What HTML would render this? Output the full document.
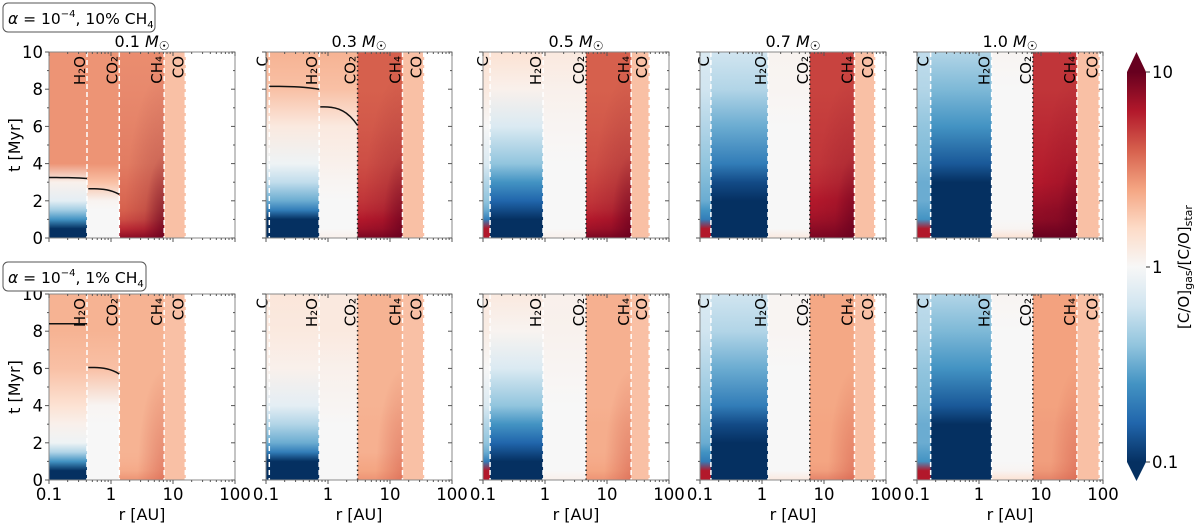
<!DOCTYPE html>
<html><head><meta charset="utf-8">
<style>
body{margin:0;background:#fff;width:1200px;height:525px;overflow:hidden;font-family:"Liberation Sans","DejaVu Sans",sans-serif;}
svg text{font-family:"DejaVu Sans","Liberation Sans",sans-serif;}
</style></head>
<body>
<svg id="chart" width="1200" height="525" viewBox="0 0 1200 525" xmlns="http://www.w3.org/2000/svg">
<defs id="defs"></defs>
<g id="panels"></g>
<g>
<rect x="3" y="3" width="152" height="29" rx="5" fill="#fff" stroke="#555" stroke-width="1"/>
<text x="8" y="24" font-size="15.5"><tspan font-style="italic">α</tspan> = 10<tspan font-size="10" dy="-7">−4</tspan><tspan dy="7">, 10% CH</tspan><tspan font-size="10" dy="4">4</tspan></text>
</g>
<g>
<rect x="3" y="262" width="143" height="29" rx="5" fill="#fff" stroke="#555" stroke-width="1"/>
<text x="8" y="283" font-size="15.5"><tspan font-style="italic">α</tspan> = 10<tspan font-size="10" dy="-7">−4</tspan><tspan dy="7">, 1% CH</tspan><tspan font-size="10" dy="4">4</tspan></text>
</g>
<text transform="translate(20,145) rotate(-90)" text-anchor="middle" font-size="16">t [Myr]</text>
<text transform="translate(20,387) rotate(-90)" text-anchor="middle" font-size="16">t [Myr]</text>
<g id="cbar"></g>
</svg>
<script>
const NS="http://www.w3.org/2000/svg";
const svg=document.getElementById('chart');
const defs=document.getElementById('defs');
const panelsG=document.getElementById('panels');

// ---- data ----
const times=[0,0.5,1,1.5,2,3,4,6,8,10];
const masses=["0.1","0.3","0.5","0.7","1.0"];
const xTicks=[0.1,1,10,100];
const xTickLabels=["0.1","1","10","100"];
const yTicks=[0,2,4,6,8,10];
const snowC=[null,0.113,0.13,0.15,0.166];
const snowH2O=[0.41,0.72,0.93,1.25,1.6];
const snowCO2=[1.36,3.0,4.6,5.9,7.4];
const snowCH4=[7.2,15.9,24.5,31,38];
const snowCO=[15.8,35,48,66,87];
const r1Inner=[
 [-1,-1,-0.6,-0.35,-0.1,0.05,0.45,0.45,0.45,0.45],
 [-1,-1,-1,-0.7,-0.5,-0.25,-0.05,0.1,0.3,0.35],
 [0.8,0.8,-0.7,-0.5,-0.4,-0.3,-0.15,0,0.1,0.15],
 [0.8,0.8,-0.7,-0.6,-0.5,-0.45,-0.4,-0.3,-0.2,-0.15],
 [0.8,0.8,-0.6,-0.55,-0.5,-0.5,-0.45,-0.4,-0.3,-0.25]];
const r1Water=[
 [-1,-1,-0.6,-0.35,-0.1,0.05,0.45,0.45,0.45,0.45],
 [-1,-1,-1,-0.7,-0.5,-0.25,-0.05,0.1,0.3,0.35],
 [-1,-1,-1,-0.9,-0.8,-0.6,-0.4,-0.15,0.05,0.15],
 [-1,-1,-1,-1,-1,-0.9,-0.7,-0.5,-0.3,-0.2],
 [-1,-1,-1,-1,-1,-1,-0.85,-0.6,-0.45,-0.3]];
const r1Mid=[
 [0,0,0,0,0.03,0.3,0.45,0.45,0.45,0.45],
 [0.05,0,0,0,0,0.02,0.05,0.1,0.3,0.35],
 [0.05,0,0,0,0,0,0,0.02,0.05,0.1],
 [0.1,0,0,0,0,0,0,0,0.02,0.03],
 [0.15,0.02,0,0,0,0,0,0,0,0.02]];
const r1Outer=[
 [0.9,0.75,0.65,0.6,0.58,0.55,0.52,0.5,0.48,0.47],
 [0.95,0.85,0.8,0.75,0.72,0.68,0.65,0.62,0.6,0.6],
 [0.95,0.85,0.8,0.75,0.72,0.68,0.65,0.62,0.6,0.6],
 [0.95,0.9,0.85,0.82,0.8,0.75,0.72,0.7,0.68,0.68],
 [1,0.95,0.9,0.88,0.85,0.8,0.78,0.75,0.72,0.72]];
const r2Inner=[
 [-1,-1,-0.6,-0.3,-0.05,0.05,0.15,0.3,0.35,0.35],
 [-1,-1,-1,-0.7,-0.5,-0.3,-0.1,0.05,0.1,0.12],
 [0.8,0.8,-0.7,-0.5,-0.4,-0.3,-0.15,0,0.08,0.1],
 [0.8,0.8,-0.7,-0.6,-0.5,-0.45,-0.4,-0.3,-0.2,-0.15],
 [0.8,0.8,-0.6,-0.55,-0.5,-0.5,-0.45,-0.4,-0.3,-0.25]];
const r2Water=[
 [-1,-1,-0.6,-0.3,-0.05,0.05,0.15,0.3,0.35,0.35],
 [-1,-1,-1,-0.7,-0.5,-0.3,-0.1,0.05,0.1,0.12],
 [-1,-1,-1,-0.9,-0.8,-0.6,-0.4,-0.15,0.03,0.1],
 [-1,-1,-1,-1,-1,-0.9,-0.7,-0.5,-0.3,-0.2],
 [-1,-1,-1,-1,-1,-1,-0.85,-0.6,-0.45,-0.3]];
const r2Mid=[
 [0,0,0,0,0,0,0.02,0.3,0.35,0.35],
 [0,0,0,0,0,0,0.02,0.05,0.1,0.1],
 [0.05,0,0,0,0,0,0,0.02,0.04,0.05],
 [0.1,0,0,0,0,0,0,0,0.02,0.02],
 [0.15,0.02,0,0,0,0,0,0,0,0.02]];
const r2Outer=[
 [0.45,0.38,0.36,0.35,0.35,0.35,0.35,0.35,0.35,0.35],
 [0.45,0.4,0.38,0.36,0.36,0.36,0.35,0.35,0.35,0.35],
 [0.45,0.4,0.38,0.37,0.37,0.37,0.36,0.36,0.36,0.36],
 [0.5,0.42,0.4,0.4,0.4,0.4,0.39,0.39,0.39,0.39],
 [0.5,0.44,0.42,0.42,0.42,0.42,0.41,0.41,0.41,0.41]];
const coZoneVal=0.3;
const contR=[[0,0,0.1,0.41],[0,0,0.43,1.36],[0,1,0.113,0.72],[0,1,0.75,3.0],[1,0,0.1,0.41],[1,0,0.43,1.36]];
const contT=[[3.25,3.2],[2.65,2.35],[8.15,8.0],[7.05,6.05],[8.4,8.4],[6.05,5.7]];

// ---- geometry ----
const PX0=49, PDX=217, PW=186, PH=186;
const PY0=[52,294];
const cmapStops=["#053061","#2166ac","#4393c3","#92c5de","#d1e5f0","#f7f7f7","#fddbc7","#f4a582","#d6604d","#b2182b","#67001f"];
function hex(h){return [1,3,5].map(i=>parseInt(h.substr(i,2),16));}
function cmap(v){
  let f=(Math.max(-1,Math.min(1,v))+1)/2*10; let i=Math.min(9,Math.floor(f)); let u=f-i;
  const a=hex(cmapStops[i]),b=hex(cmapStops[i+1]);
  return 'rgb('+a.map((x,k)=>Math.round(x+(b[k]-x)*u)).join(',')+')';
}
function xs(r,c){return PX0+PDX*c+(Math.log10(r)+1)/3*PW;}
function ys(t,row){return PY0[row]+PH-t/10*PH;}
function mk(tag,attrs,parent){const e=document.createElementNS(NS,tag);for(const k in attrs)e.setAttribute(k,attrs[k]);(parent||svg).appendChild(e);return e;}
let gid=0;
function gradFor(vals){
  const id='g'+(gid++);
  const g=mk('linearGradient',{id:id,x1:0,y1:1,x2:0,y2:0},defs);
  vals.forEach((v,i)=>mk('stop',{offset:times[i]/10,'stop-color':cmap(v)},g));
  return 'url(#'+id+')';
}
// overlay gradient: darkening toward outer-bottom corner of CO2-CH4 zone
const ov=mk('radialGradient',{id:'corner',cx:1,cy:1,r:0.9},defs);
mk('stop',{offset:0,'stop-color':'#67001f','stop-opacity':0.8},ov);
mk('stop',{offset:0.5,'stop-color':'#67001f','stop-opacity':0.15},ov);
mk('stop',{offset:1,'stop-color':'#67001f','stop-opacity':0},ov);
const ov2=mk('radialGradient',{id:'corner2',cx:1,cy:1,r:0.6},defs);
mk('stop',{offset:0,'stop-color':'#d6604d','stop-opacity':0.6},ov2);
mk('stop',{offset:1,'stop-color':'#d6604d','stop-opacity':0},ov2);

const rowsData=[[r1Inner,r1Water,r1Mid,r1Outer],[r2Inner,r2Water,r2Mid,r2Outer]];
for(let row=0;row<2;row++){
 for(let c=0;c<5;c++){
  const g=mk('g',{},panelsG);
  
  
  const x0=PX0+PDX*c, y0=PY0[row];
  const D=rowsData[row];
  const bounds=[0.1,snowC[c]||0.1,snowH2O[c],snowCO2[c],snowCH4[c],snowCO[c]];
  const vals=[D[0][c],D[1][c],D[2][c],D[3][c],null];
  for(let k=0;k<5;k++){
    const a=xs(bounds[k],c), b=xs(bounds[k+1],c);
    if(b-a<=0) continue;
    const fill = vals[k] ? gradFor(vals[k]) : cmap(coZoneVal);
    const rc=mk('rect',{x:a,y:y0,width:b-a+0.5,height:PH,fill:fill},g);
    
    
    if(k===3){
      const o=mk('rect',{x:a,y:y0,width:b-a,height:PH,fill:row===0?'url(#corner)':'url(#corner2)'},g);
      
      
    }
  }
  const lines=[["C",snowC[c]],["H₂O",snowH2O[c]],["CO₂",snowCO2[c]],["CH₄",snowCH4[c]],["CO",snowCO[c]]];
  lines.forEach(([lab,r],k)=>{
    if(!r) return;
    const x=xs(r,c);
    const dotted = (k===2 && c>0);
    const ln=mk('line',{x1:x,x2:x,y1:y0,y2:y0+PH,stroke:dotted?'#222':'#fff','stroke-width':1.5,'stroke-dasharray':dotted?'1.5,3':'5,3'},g);
    
    
    const t=mk('text',{transform:'translate('+(x-2)+','+(y0+4)+') rotate(-90)','text-anchor':'end','font-size':15,fill:'#000'},g);
    t.textContent=lab;
    
    
  });
  const fr=mk('rect',{x:x0,y:y0,width:PW,height:PH,fill:'none',stroke:'#888','stroke-width':1},g);
  
  
  for(let t=0;t<=10;t++){
    const y=ys(t,row), len=t%2===0?4:2;
    mk('line',{x1:x0-len,x2:x0,y1:y,y2:y,stroke:'#555','stroke-width':1},g);
    mk('line',{x1:x0+PW,x2:x0+PW-len,y1:y,y2:y,stroke:'#555','stroke-width':1},g);
  }
  for(let d=-1;d<2;d++){for(let m=1;m<=10;m++){
    const x=xs(m*Math.pow(10,d),c), len=m===1||m===10?4:2;
    mk('line',{x1:x,x2:x,y1:y0+PH,y2:y0+PH+len,stroke:'#555','stroke-width':1},g);
    mk('line',{x1:x,x2:x,y1:y0,y2:y0+len,stroke:'#555','stroke-width':1},g);
  }}
  if(c===0){
    yTicks.forEach(t=>{const tx=mk('text',{x:x0-6,y:ys(t,row)+6,'text-anchor':'end','font-size':16.5},g);tx.textContent=t;
      
      });
  }
  if(row===1){
    xTicks.forEach((r,i)=>{const tx=mk('text',{x:xs(r,c),y:y0+PH+20,'text-anchor':'middle','font-size':16.5},g);tx.textContent=xTickLabels[i];
      
      });
    const xl=mk('text',{x:x0+PW/2,y:y0+PH+40,'text-anchor':'middle','font-size':16},g);xl.textContent='r [AU]';
    
    
  } else {
    const tt=mk('text',{x:x0+PW/2,y:y0-5,'text-anchor':'middle','font-size':16},g);
    tt.innerHTML=masses[c]+' <tspan font-style="italic">M</tspan><tspan font-size="12" dy="3">☉</tspan>';
    
    
  }
 }
}
contR.forEach((cr,i)=>{
  const [row,c,ra,rb]=cr, [ta,tb]=contT[i];
  const pts=[];
  for(let s=0;s<=10;s++){const u=s/10; const r=Math.pow(10,Math.log10(ra)+(Math.log10(rb)-Math.log10(ra))*u);
    const t=ta+(tb-ta)*Math.pow(u,3); pts.push(xs(r,c)+','+ys(t,row));}
  const p=mk('polyline',{points:pts.join(' '),fill:'none',stroke:'#111','stroke-width':1.5},panelsG);
  
  
});
const cb=document.getElementById('cbar');
const CBX=1127, CBW=19, CBT=72, CBB=462;
const cbg=mk('linearGradient',{id:'cbgrad',x1:0,y1:1,x2:0,y2:0},defs);
cmapStops.forEach((s,i)=>mk('stop',{offset:i/10,'stop-color':s},cbg));
mk('rect',{x:CBX,y:CBT,width:CBW,height:CBB-CBT,fill:'url(#cbgrad)'},cb);
mk('polygon',{points:`${CBX},${CBT} ${CBX+CBW},${CBT} ${CBX+CBW/2},52`,fill:cmapStops[10]},cb);
mk('polygon',{points:`${CBX},${CBB} ${CBX+CBW},${CBB} ${CBX+CBW/2},481`,fill:cmapStops[0]},cb);
const cbTicks=[["10",CBT],["1",(CBT+CBB)/2],["0.1",CBB]];
cbTicks.forEach(([l,y])=>{mk('line',{x1:CBX+CBW,x2:CBX+CBW+4,y1:y,y2:y,stroke:'#333'},cb);
  const t=mk('text',{x:CBX+CBW+6,y:y+6,'font-size':16.5},cb);t.textContent=l;
  
  });
const cbl=mk('text',{transform:'translate(1189,267) rotate(-90)','text-anchor':'middle','font-size':15},cb);
cbl.innerHTML='[C/O]<tspan font-size="11" dy="3">gas</tspan><tspan dy="-3">/[C/O]</tspan><tspan font-size="11" dy="3">star</tspan>';


</script>
</body></html>
